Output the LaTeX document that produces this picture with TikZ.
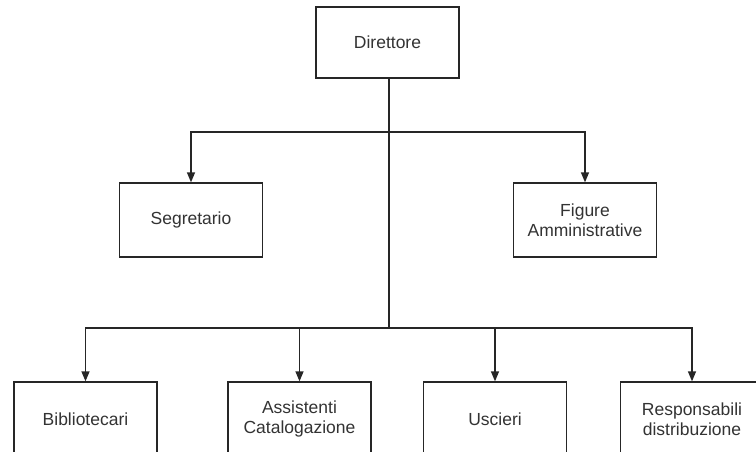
\documentclass[tikz,border=0pt]{standalone}
\usepackage{fontspec}
\setmainfont{Liberation Sans}
\usetikzlibrary{arrows.meta}
\tikzset{
  box/.style={draw=black!85, line width=1.3pt, fill=white, minimum width=143pt,
    align=center, text=black!80, font=\fontsize{17.5}{20}\selectfont},
  topbox/.style={box, minimum height=71pt},
  unitbox/.style={box, minimum height=74pt},
  link/.style={draw=black!85, line width=1.3pt},
  arr/.style={link, -{Triangle[length=10pt,width=8pt]}}
}

\begin{document}
\begin{tikzpicture}[x=1pt,y=-1pt]
  \clip (0,0) rectangle (756,452);
  % vertici
  \node[topbox]  (dir)  at (387.5, 42.5) {Direttore};
  \node[unitbox] (seg)  at (191, 220)    {Segretario};
  \node[unitbox] (fig)  at (585, 220)    {Figure\\Amministrative};
  \node[unitbox] (bib)  at (85.5, 419)   {Bibliotecari};
  \node[unitbox] (ass)  at (299.5, 419)  {Assistenti\\Catalogazione};
  \node[unitbox] (usc)  at (495, 419)    {Uscieri};
  \node[unitbox] (resp) at (692, 419)    {Responsabili\\distribuzione};
  % diramazioni
  \coordinate (up)  at (389, 132);
  \coordinate (low) at (389, 328);
  \draw[link] (dir.south -| up) -- (low);
  \draw[arr] (up) -| (seg.north);
  \draw[arr] (up) -| (fig.north);
  \foreach \n in {bib,ass,usc,resp} {\draw[arr] (low) -| (\n.north);}
\end{tikzpicture}
\end{document}
